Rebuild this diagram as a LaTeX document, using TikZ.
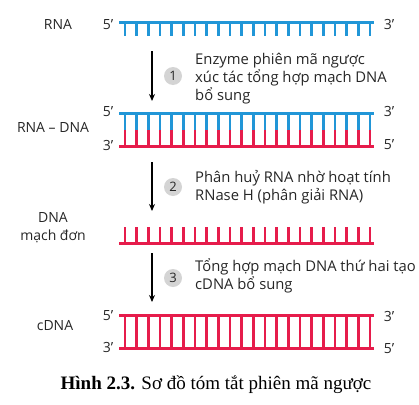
\documentclass[tikz,border=0pt]{standalone}
\usepackage{fontspec}
\setmainfont{Open Sans}
\newfontfamily\capfont{Liberation Serif}
\usetikzlibrary{arrows.meta}
\definecolor{rnablue}{RGB}{33,150,215}
\definecolor{dnared}{RGB}{230,28,75}

\begin{document}
\begin{tikzpicture}[x=1pt,y=-1pt,
    strand/.style={line width=3pt},
    rung/.style={line width=2.5pt},
    lbl/.style={font=\fontsize{14}{18}\selectfont, text=black!85, align=center},
    prime/.style={font=\fontsize{14}{16}\selectfont, text=black!85},
    stepnum/.style={circle, fill=black!17, minimum size=18pt, inner sep=0pt, font=\fontsize{13}{14}\selectfont, text=black!85},
    steptext/.style={anchor=west, align=left, font=\fontsize{14.8}{18}\selectfont, text=black!85, inner sep=0pt},
    flow/.style={-{Stealth[length=7pt,width=6pt]}, line width=1.2pt}]
    \useasboundingbox (0,0) rectangle (419,404);

    % RNA
    \node[lbl] (rna) at (58,24) {RNA};
    \node[prime] (rna5) at (108,25) {5'};
    \node[prime] (rna3) at (389,24) {3'};
    \draw[strand, rnablue] (119,23) -- (374,23);
    \foreach \i in {0,...,21}
        \draw[rung, rnablue] ({125+11.67*\i},23) -- ({125+11.67*\i},36);

    % step 1
    \coordinate (a1s) at (152,51);
    \coordinate (a1e) at (152,101);
    \draw[flow] (a1s) -- (a1e);
    \node[stepnum] (n1) at (173,76) {1};
    \node[steptext] (t1) at (195,79) {Enzyme phiên mã ngược\\xúc tác tổng hợp mạch DNA\\bổ sung};

    % RNA - DNA
    \node[lbl] (hyb) at (53,127) {RNA – DNA};
    \node[prime] (hyb5) at (108,112) {5'};
    \node[prime] (hyb3) at (108,145) {3'};
    \node[prime] (hyb3r) at (389,111) {3'};
    \node[prime] (hyb5r) at (389,145) {5'};
    \draw[strand, rnablue] (119,113) -- (374,113);
    \draw[strand, dnared] (119,146) -- (374,146);
    \foreach \i in {0,...,21} {
        \draw[rung, rnablue] ({125+11.67*\i},113) -- ({125+11.67*\i},129.5);
        \draw[rung, dnared] ({125+11.67*\i},129.5) -- ({125+11.67*\i},146);
    }

    % step 2
    \coordinate (a2s) at (152,162);
    \coordinate (a2e) at (152,211);
    \draw[flow] (a2s) -- (a2e);
    \node[stepnum] (n2) at (173,187) {2};
    \node[steptext] (t2) at (195,187.5) {Phân huỷ RNA nhờ hoạt tính\\RNase H (phân giải RNA)};

    % DNA mach don
    \node[lbl] (ss) at (53,228) {DNA\\mạch đơn};
    \draw[strand, dnared] (119,243) -- (374,243);
    \foreach \i in {0,...,21}
        \draw[rung, dnared] ({125+11.67*\i},243) -- ({125+11.67*\i},227);

    % step 3
    \coordinate (a3s) at (152,253);
    \coordinate (a3e) at (152,302);
    \draw[flow] (a3s) -- (a3e);
    \node[stepnum] (n3) at (173,278) {3};
    \node[steptext] (t3) at (195,276) {Tổng hợp mạch DNA thứ hai tạo\\cDNA bổ sung};

    % cDNA
    \node[lbl] (cdna) at (55,326) {cDNA};
    \node[prime] (c5) at (108,316) {5'};
    \node[prime] (c3) at (108,347) {3'};
    \node[prime] (c3r) at (389,316) {3'};
    \node[prime] (c5r) at (389,349) {5'};
    \draw[strand, dnared] (119,315) -- (374,315);
    \draw[strand, dnared] (119,348) -- (374,348);
    \foreach \i in {0,...,21}
        \draw[rung, dnared] ({125+11.67*\i},315) -- ({125+11.67*\i},348);

    \node[font=\capfont\fontsize{19}{22}\selectfont] (cap) at (216,385) {\textbf{Hình 2.3.} Sơ đồ tóm tắt phiên mã ngược};
\end{tikzpicture}
\end{document}
